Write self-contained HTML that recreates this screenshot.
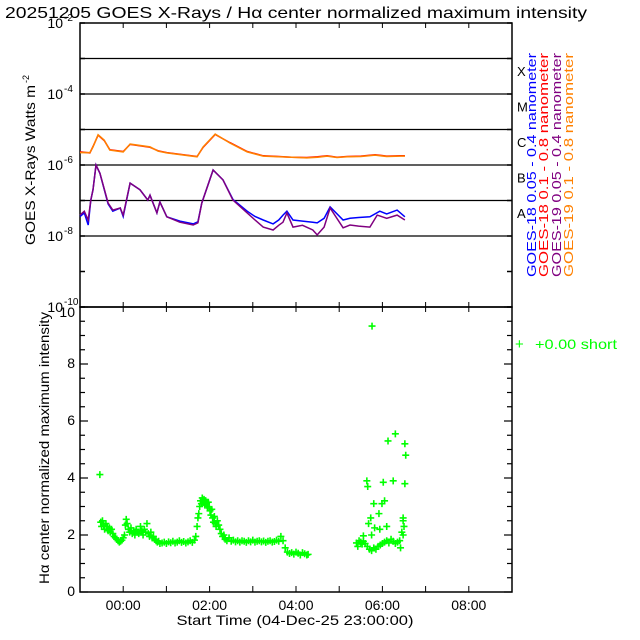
<!DOCTYPE html>
<html><head><meta charset="utf-8"><style>
html,body{margin:0;padding:0;background:#fff;}
svg{display:block;font-family:"Liberation Sans",sans-serif;}
</style></head><body>
<svg id="chart" width="640" height="640" viewBox="0 0 640 640" xmlns="http://www.w3.org/2000/svg">
<text x="5" y="18" font-size="16" textLength="582" lengthAdjust="spacingAndGlyphs">20251205 GOES X-Rays / Hα center normalized maximum intensity</text>
<g id="topPanel"></g>
<g id="botPanel"></g>
<g id="legend">
<text transform="translate(536,277) rotate(-90)" font-size="13" fill="#0000ff" textLength="224" lengthAdjust="spacingAndGlyphs">GOES-18 0.05 - 0.4 nanometer</text>
<text transform="translate(548,277) rotate(-90)" font-size="13" fill="#ff0000" textLength="224" lengthAdjust="spacingAndGlyphs">GOES-18 0.1 - 0.8 nanometer</text>
<text transform="translate(561,277) rotate(-90)" font-size="13" fill="#800080" textLength="224" lengthAdjust="spacingAndGlyphs">GOES-19 0.05 - 0.4 nanometer</text>
<text transform="translate(573,277) rotate(-90)" font-size="13" fill="#ff8000" textLength="224" lengthAdjust="spacingAndGlyphs">GOES-19 0.1 - 0.8 nanometer</text>
<text x="515" y="349" font-size="15" fill="#00ff00">+</text>
<text x="535" y="349" font-size="14" fill="#00ff00" textLength="82" lengthAdjust="spacingAndGlyphs">+0.00 short</text>
</g>
</svg>
<script>
// ---- data ----
const hourTicks = [0,2,4,6,8];
const hourTickLabels = ["00:00","02:00","04:00","06:00","08:00"];
const decadeLabels = [-2,-4,-6,-8,-10];
const flareClasses = ["A","B","C","M","X"];
const flareClassLogs = [-8,-7,-6,-5,-4];
const intensityTicks = [0,2,4,6,8,10];

const g19LongT = [-1.00,-0.77,-0.70,-0.58,-0.44,-0.31,0.00,0.16,0.62,0.81,1.01,1.71,1.85,2.13,2.47,2.87,3.24,3.60,3.90,4.25,4.50,4.72,4.95,5.18,5.50,5.83,6.10,6.41,6.52];
const g19LongV = [-5.65,-5.65,-5.49,-5.15,-5.30,-5.58,-5.63,-5.41,-5.49,-5.61,-5.66,-5.77,-5.49,-5.13,-5.38,-5.63,-5.75,-5.77,-5.78,-5.80,-5.78,-5.75,-5.79,-5.77,-5.76,-5.72,-5.76,-5.75,-5.75];
const g18LongT = [-1.00,-0.77,-0.70,-0.58,-0.44,-0.31,0.00,0.16,0.62,0.81,1.01,1.71,1.85,2.13,2.47,2.87,3.24,3.60,3.90,4.25,4.50,4.72,4.95,5.18,5.50,5.83,6.10,6.41,6.52];
const g18LongV = [-5.63,-5.66,-5.48,-5.16,-5.31,-5.57,-5.62,-5.42,-5.50,-5.60,-5.65,-5.76,-5.50,-5.14,-5.37,-5.62,-5.74,-5.76,-5.78,-5.79,-5.77,-5.74,-5.78,-5.76,-5.75,-5.71,-5.75,-5.74,-5.74];

const g19ShortT = [-1.00,-0.90,-0.81,-0.75,-0.70,-0.63,-0.54,-0.35,-0.24,-0.07,0.00,0.16,0.39,0.57,0.62,0.78,0.85,1.01,1.31,1.62,1.73,1.82,2.08,2.31,2.54,2.87,3.05,3.24,3.47,3.60,3.70,3.79,3.93,4.15,4.39,4.49,4.65,4.79,5.09,5.25,5.45,5.71,5.88,6.10,6.34,6.52];
const g19ShortV = [-7.41,-7.30,-7.55,-6.99,-6.70,-6.00,-6.23,-7.07,-7.27,-7.21,-7.41,-6.51,-6.70,-6.99,-6.85,-7.35,-7.04,-7.46,-7.61,-7.69,-7.63,-7.07,-6.14,-6.42,-6.99,-7.35,-7.55,-7.75,-7.83,-7.70,-7.61,-7.35,-7.75,-7.70,-7.83,-7.97,-7.75,-7.21,-7.77,-7.69,-7.72,-7.75,-7.41,-7.50,-7.41,-7.55];
const g18ShortT = [-1.00,-0.90,-0.81,-0.75,-0.70,-0.63,-0.54,-0.35,-0.24,-0.07,0.00,0.16,0.39,0.57,0.62,0.78,0.85,1.01,1.31,1.62,1.73,1.82,2.08,2.31,2.54,2.87,3.05,3.24,3.47,3.60,3.70,3.79,3.93,4.15,4.39,4.49,4.65,4.79,5.09,5.25,5.45,5.71,5.94,6.10,6.34,6.52];
const g18ShortV = [-7.45,-7.35,-7.69,-6.99,-6.70,-6.00,-6.23,-7.10,-7.30,-7.21,-7.45,-6.51,-6.70,-6.99,-6.85,-7.35,-7.04,-7.46,-7.58,-7.66,-7.60,-7.07,-6.14,-6.42,-6.97,-7.30,-7.45,-7.55,-7.66,-7.55,-7.41,-7.30,-7.55,-7.58,-7.61,-7.63,-7.50,-7.18,-7.55,-7.50,-7.48,-7.46,-7.30,-7.38,-7.27,-7.46];

const haT = [-0.54,-0.52,-0.50,-0.48,-0.45,-0.43,-0.40,-0.37,-0.35,-0.32,-0.30,-0.27,-0.24,-0.21,-0.18,-0.15,-0.12,-0.09,-0.06,-0.03,0.00,0.03,0.05,0.07,0.09,0.12,0.15,0.18,0.21,0.24,0.27,0.30,0.33,0.36,0.40,0.43,0.46,0.49,0.52,0.55,0.58,0.61,0.64,0.67,0.70,0.73,0.76,0.79,0.82,0.85,0.90,0.95,1.00,1.05,1.10,1.15,1.20,1.25,1.30,1.35,1.40,1.45,1.50,1.55,1.60,1.65,1.68,1.71,1.73,1.75,1.77,1.79,1.81,1.83,1.85,1.87,1.89,1.91,1.93,1.95,1.97,1.99,2.01,2.03,2.05,2.07,2.09,2.11,2.13,2.15,2.18,2.21,2.24,2.27,2.30,2.33,2.36,2.40,2.45,2.50,2.55,2.60,2.65,2.70,2.75,2.80,2.85,2.90,2.95,3.00,3.05,3.10,3.15,3.20,3.25,3.30,3.35,3.40,3.45,3.50,3.55,3.60,3.65,3.70,3.75,3.80,3.85,3.90,3.95,4.00,4.05,4.10,4.15,4.20,4.25,4.28,
5.40,5.43,5.46,5.50,5.53,5.56,5.60,5.65,5.70,5.75,5.80,5.85,5.90,5.95,6.00,6.05,6.10,6.15,6.20,6.25,6.30,6.35,6.40,6.45,6.48,6.50,
5.76,6.13,6.30,6.52,6.54,5.64,5.66,6.02,6.25,6.52,5.80,5.99,5.92,5.73,5.68,5.75,5.82,6.10,5.94,6.48,6.48,6.05,5.56,6.42];
const haV = [4.12,2.45,2.30,2.50,2.35,2.20,2.40,2.30,2.15,2.25,2.10,2.20,2.05,1.95,1.90,1.85,1.80,1.75,1.78,1.82,1.90,2.00,2.35,2.55,2.40,2.20,2.10,2.25,2.05,2.15,2.00,2.20,2.10,2.05,2.30,2.15,2.00,2.20,2.10,2.40,2.05,1.95,2.10,1.90,1.95,1.85,1.80,1.75,1.78,1.70,1.72,1.75,1.70,1.76,1.73,1.78,1.72,1.75,1.80,1.74,1.77,1.72,1.76,1.80,1.74,1.82,1.95,2.30,2.60,2.75,3.00,3.20,3.10,3.30,3.15,3.25,3.05,3.20,3.10,3.00,3.15,2.95,2.85,2.70,2.90,2.60,2.45,2.65,2.40,2.30,2.50,2.35,2.20,2.05,1.95,2.00,1.85,1.80,1.90,1.78,1.82,1.76,1.80,1.75,1.80,1.78,1.74,1.80,1.76,1.82,1.75,1.78,1.80,1.76,1.79,1.74,1.78,1.80,1.75,1.77,1.82,1.78,1.95,1.80,1.55,1.40,1.35,1.38,1.33,1.40,1.36,1.30,1.38,1.34,1.30,1.32,
1.72,1.60,1.80,1.75,1.68,1.78,1.70,1.60,1.50,1.45,1.55,1.50,1.60,1.65,1.70,1.75,1.80,1.72,1.85,1.78,1.70,1.75,1.80,2.10,2.50,2.30,
9.33,5.30,5.55,5.20,4.80,3.90,3.70,3.85,3.90,3.80,3.10,3.10,2.75,2.60,2.40,2.00,2.25,2.30,2.20,2.60,2.00,3.20,1.97,1.55];

// ---- axes ----
const NS='http://www.w3.org/2000/svg';
const L=80,R=512,T1=23,B1=307,T2=307,B2=592;
const xS=h=>L+(h+1)*(R-L)/10;
const yTop=lg=>T1+(-2-lg)*(B1-T1)/8;
const yBot=v=>B2-v*(B2-T2)/10;
function mk(tag,attrs,parent){const e=document.createElementNS(NS,tag);for(const k in attrs)e.setAttribute(k,attrs[k]);parent.appendChild(e);return e;}
const topG=document.getElementById('topPanel'),botG=document.getElementById('botPanel');

let f1=mk('rect',{x:L,y:T1,width:R-L,height:B1-T1,fill:'none',stroke:'#000','stroke-width':1.5},topG);


let f2=mk('rect',{x:L,y:T2,width:R-L,height:B2-T2,fill:'none',stroke:'#000','stroke-width':1.5},botG);



for(let d=-3;d>=-8;d--){
  const y=yTop(d);
  const ln=mk('line',{x1:L,x2:R,y1:y,y2:y,stroke:'#000','stroke-width':1.3},topG);
  
  
}
for(let d=-2;d>=-10;d--){
  const y=yTop(d);
  mk('line',{x1:L,x2:L+5,y1:y,y2:y,stroke:'#000','stroke-width':1.5},topG);
  mk('line',{x1:R-5,x2:R,y1:y,y2:y,stroke:'#000','stroke-width':1.5},topG);
}
decadeLabels.forEach(d=>{
  const t=mk('text',{x:63,y:yTop(d)+5,'font-size':14,'text-anchor':'end'},topG);
  
  
  t.textContent='10';
  const s=mk('text',{x:64,y:yTop(d)-2,'font-size':10},topG);
  
  
  s.textContent=String(d);
});
flareClasses.forEach((c,i)=>{
  const t=mk('text',{x:517,y:yTop(flareClassLogs[i])-18,'font-size':13},topG);
  
  
  t.textContent=c;
});
let yt1=mk('text',{transform:'translate(35,165) rotate(-90)','font-size':14,'text-anchor':'middle',textLength:160,lengthAdjust:'spacingAndGlyphs'},topG);


yt1.textContent='GOES X-Rays Watts m';
let ys=mk('text',{transform:'translate(29,83) rotate(-90)','font-size':9},topG);


ys.textContent='-2';

for(let h=-1;h<=9;h++){
  const x=xS(h);
  [[T1,T1+5],[B1-5,B1+5],[B2-6,B2]].forEach(([a,b])=>mk('line',{x1:x,x2:x,y1:a,y2:b,stroke:'#000','stroke-width':1},topG));
}
hourTicks.forEach((h,i)=>{
  const t=mk('text',{x:xS(h),y:610,'font-size':14,'text-anchor':'middle'},botG);
  
  
  t.textContent=hourTickLabels[i];
});
let xt=mk('text',{x:295,y:625,'font-size':14,'text-anchor':'middle',textLength:237,lengthAdjust:'spacingAndGlyphs'},botG);


xt.textContent='Start Time (04-Dec-25 23:00:00)';

for(let v=0;v<=10;v+=0.5){
  const y=yBot(v),len=(v%2===0)?8:5;
  mk('line',{x1:L,x2:L+len,y1:y,y2:y,stroke:'#000','stroke-width':1.2},botG);
  mk('line',{x1:R-len,x2:R,y1:y,y2:y,stroke:'#000','stroke-width':1.2},botG);
}
intensityTicks.forEach(v=>{
  const t=mk('text',{x:75,y:yBot(v)+(v===10?10:4),'font-size':14,'text-anchor':'end'},botG);
  
  
  t.textContent=String(v);
});
let yt2=mk('text',{transform:'translate(49,448) rotate(-90)','font-size':14,'text-anchor':'middle',textLength:272,lengthAdjust:'spacingAndGlyphs'},botG);


yt2.textContent='Hα center normalized maximum intensity';

function line(ts,vs,color,name){
  const pts=ts.map((t,i)=>xS(t).toFixed(1)+','+yTop(vs[i]).toFixed(1)).join(' ');
  const p=mk('polyline',{points:pts,fill:'none',stroke:color,'stroke-width':1.5},topG);
  
  
}
line(g18LongT,g18LongV,'#ff0000','goes18-long-line');
line(g19LongT,g19LongV,'#ff8000','goes19-long-line');
line(g18ShortT,g18ShortV,'#0000ff','goes18-short-line');
line(g19ShortT,g19ShortV,'#800080','goes19-short-line');

haT.forEach((t,i)=>{
  const x=xS(t),y=yBot(haV[i]);
  const p=mk('path',{d:`M${x-3.5},${y}H${x+3.5}M${x},${y-3.5}V${y+3.5}`,stroke:'#00ff00','stroke-width':1.6},botG);
  
  
});
</script>
</body></html>
